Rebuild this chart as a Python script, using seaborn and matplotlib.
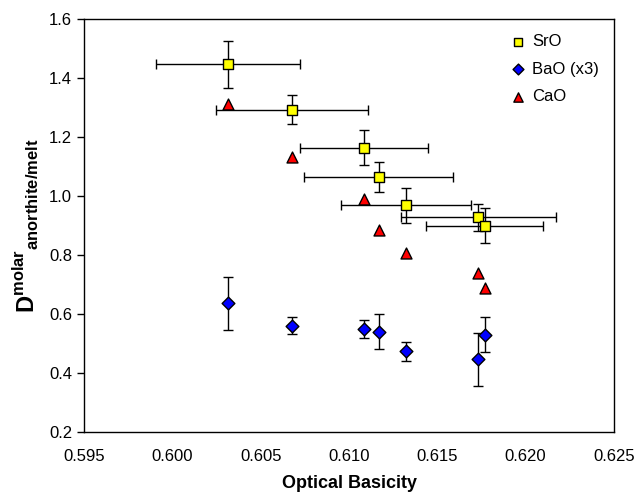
import numpy as np
import pandas as pd
import matplotlib
matplotlib.use("Agg")
import matplotlib.pyplot as plt
import seaborn as sns

sns.set_style("white")
plt.rcParams['font.family'] = ['Liberation Sans', 'DejaVu Sans']
plt.rcParams['mathtext.fontset'] = 'custom'
plt.rcParams['mathtext.rm'] = 'Liberation Sans'
plt.rcParams['mathtext.bf'] = 'Liberation Sans:bold'
for k in ["text.color", "axes.labelcolor", "xtick.color", "ytick.color"]:
    plt.rcParams[k] = "black"

# optical basicity of each glass
basicity = [0.60315, 0.60679, 0.61085, 0.61167, 0.61323, 0.61732, 0.61768]

sro = [1.447, 1.292, 1.164, 1.065, 0.968, 0.928, 0.899]
sro_yerr = [0.080, 0.049, 0.060, 0.050, 0.059, 0.045, 0.059]
sro_xerr = [0.0041, 0.0043, 0.0036, 0.0042, 0.0037, 0.0044, 0.0033]

bao = [0.636, 0.560, 0.548, 0.540, 0.473, 0.446, 0.530]
bao_yerr = [0.090, 0.029, 0.030, 0.060, 0.031, 0.091, 0.059]

cao = [1.311, 1.133, 0.990, 0.885, 0.806, 0.738, 0.688]

df = pd.DataFrame({
    "basicity": basicity * 3,
    "D": sro + bao + cao,
    "oxide": ["SrO"] * 7 + ["BaO (x3)"] * 7 + ["CaO"] * 7,
})

colors = {"SrO": "#ffff00", "BaO (x3)": "#0000ff", "CaO": "#ff0000"}
markers = {"SrO": "s", "BaO (x3)": "D", "CaO": "^"}
sizes = {"SrO": 48, "BaO (x3)": 42, "CaO": 62}

fig = plt.figure(figsize=(6.38, 4.94), dpi=100)
ax = fig.add_axes([0.1317, 0.1255, 0.8307, 0.836])

ax.errorbar(basicity, sro, xerr=sro_xerr, yerr=sro_yerr, fmt="none",
            ecolor="black", elinewidth=1, capsize=3.5, capthick=1, zorder=1)
ax.errorbar(basicity, bao, yerr=bao_yerr, fmt="none",
            ecolor="black", elinewidth=1, capsize=3.5, capthick=1, zorder=1)

for name in ["SrO", "BaO (x3)", "CaO"]:
    sub = df[df["oxide"] == name]
    sns.scatterplot(data=sub, x="basicity", y="D", color=colors[name],
                    marker=markers[name], s=sizes[name], edgecolor="black",
                    linewidth=1, zorder=3, label=name, ax=ax)

ax.set_xlim(0.595, 0.625)
ax.set_ylim(0.2, 1.6)
xt = np.arange(0.595, 0.6251, 0.005)
yt = np.arange(0.2, 1.61, 0.2)
ax.set_xticks(xt)
ax.set_yticks(yt)
ax.set_xticklabels([f"{v:.3f}" for v in xt], fontsize=12)
ax.set_yticklabels([f"{v:.1f}" for v in yt], fontsize=12)
ax.tick_params(axis="y", direction="out", length=5, width=1, left=True)
ax.tick_params(axis="x", length=0, pad=12)
for sp in ax.spines.values():
    sp.set_color("black")
    sp.set_linewidth(1)

ax.set_xlabel("Optical Basicity", fontsize=13, fontweight="bold", labelpad=8)
ax.set_ylabel(r"$\mathbf{D}^{\mathbf{molar}}{}_{\mathbf{anorthite/melt}}$",
              fontsize=17, labelpad=6)

leg = ax.legend(loc="upper right", frameon=False, fontsize=12, handlelength=1.0,
                handletextpad=0.35, borderaxespad=0.5, labelspacing=0.75,
                markerscale=0.85)

fig.savefig("out.png", dpi=100)
